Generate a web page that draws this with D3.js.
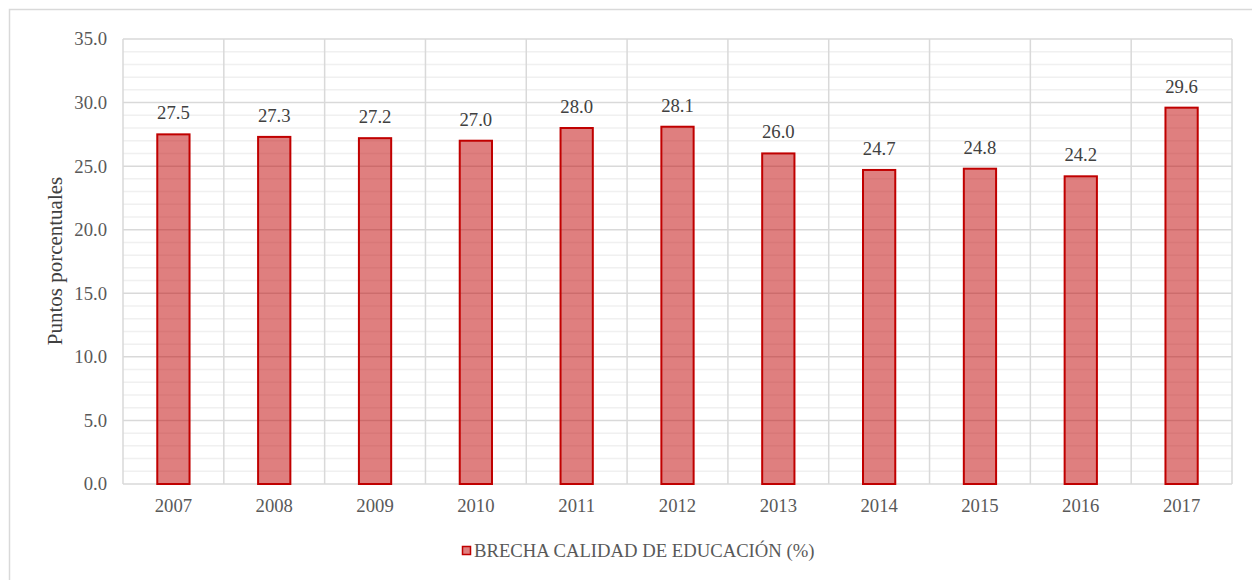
<!DOCTYPE html>
<html><head><meta charset="utf-8">
<script src="https://cdn.jsdelivr.net/npm/d3@7"></script>
<style>body{margin:0;background:#fff}svg{display:block}text{font-family:"Liberation Serif","Times New Roman",serif}</style>
</head><body>
<svg id="c" width="1252" height="580"></svg>
<script>
const years = ["2007","2008","2009","2010","2011","2012","2013","2014","2015","2016","2017"];
const values = [27.5,27.3,27.2,27.0,28.0,28.1,26.0,24.7,24.8,24.2,29.6];
const yTicks = [0,5,10,15,20,25,30,35];
const seriesName = "BRECHA CALIDAD DE EDUCACIÓN (%)";
const yTitle = "Puntos porcentuales";

const svg = d3.select("#c");
const fs = 18.7;
const m = {l:123, r:1232, t:39, b:484};
svg.append("rect").attr("x",9.5).attr("y",9.5).attr("width",1300).attr("height",600)
  .attr("fill","none").attr("stroke","#d9d9d9").attr("stroke-width",1.5);

const x = d3.scaleBand().domain(years).range([m.l,m.r]).paddingInner(0.68).paddingOuter(0.34);
const xb = d3.scaleBand().domain(years).range([m.l,m.r]);
const y = d3.scaleLinear().domain([0,35]).range([m.b,m.t]);

const g = svg.append("g");
g.selectAll(".mn").data(d3.range(0,36,1).filter(v=>v%5!==0)).join("line")
  .attr("x1",m.l).attr("x2",m.r).attr("y1",d=>y(d)).attr("y2",d=>y(d))
  .attr("stroke","#f0f0f0").attr("stroke-width",1.5);
g.selectAll(".vg").data(years).join("line")
  .attr("x1",d=>xb(d)).attr("x2",d=>xb(d)).attr("y1",m.t).attr("y2",m.b)
  .attr("stroke","#d9d9d9").attr("stroke-width",1.5);
g.append("line").attr("x1",m.r).attr("x2",m.r).attr("y1",m.t).attr("y2",m.b)
  .attr("stroke","#d9d9d9").attr("stroke-width",1.5);
g.selectAll(".mj").data(yTicks).join("line")
  .attr("x1",m.l).attr("x2",m.r).attr("y1",d=>y(d)).attr("y2",d=>y(d))
  .attr("stroke","#d9d9d9").attr("stroke-width",1.5);

const ya = svg.append("g").attr("transform",`translate(${m.l},0)`)
  .call(d3.axisLeft(y).tickValues(yTicks).tickFormat(d3.format(".1f")).tickSize(0).tickPadding(16));
ya.select(".domain").remove();
ya.selectAll("text").attr("font-family",null).attr("font-size",fs).attr("fill","#595959");

const xa = svg.append("g").attr("transform",`translate(0,${m.b})`)
  .call(d3.axisBottom(xb).tickSize(0).tickPadding(15));
xa.select(".domain").remove();
xa.selectAll("text").attr("font-family",null).attr("font-size",fs).attr("fill","#595959");

svg.selectAll(".bar").data(years).join("rect")
  .attr("x",d=>x(d)).attr("width",x.bandwidth())
  .attr("y",(d,i)=>y(values[i])).attr("height",(d,i)=>y(0)-y(values[i]))
  .attr("fill","#c00000").attr("fill-opacity",0.5).attr("stroke","#c00000").attr("stroke-width",2);

svg.selectAll(".lbl").data(years).join("text")
  .attr("x",d=>x(d)+x.bandwidth()/2).attr("y",(d,i)=>y(values[i])-15)
  .attr("text-anchor","middle").attr("font-size",fs).attr("fill","#404040")
  .text((d,i)=>d3.format(".1f")(values[i]));

svg.append("text").attr("transform",`translate(62,261) rotate(-90)`)
  .attr("text-anchor","middle").attr("font-size",21).attr("fill","#404040")
  .text(yTitle);

svg.append("rect").attr("x",462.5).attr("y",546.5).attr("width",8).attr("height",8)
  .attr("fill","#c00000").attr("fill-opacity",0.5).attr("stroke","#c00000").attr("stroke-width",1.5);
svg.append("text").attr("x",474).attr("y",557).attr("font-size",fs)
  .attr("fill","#595959").text(seriesName);
</script>
</body></html>
